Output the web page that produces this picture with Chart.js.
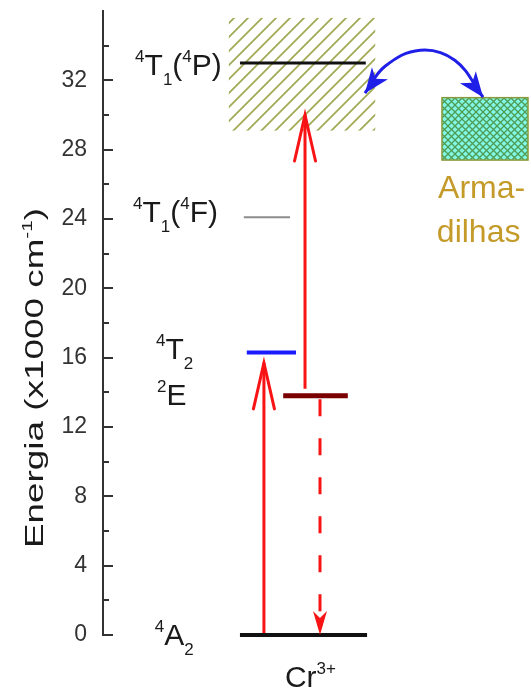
<!DOCTYPE html>
<html>
<head>
<meta charset="utf-8">
<script src="https://cdn.jsdelivr.net/npm/chart.js@4.4.1/dist/chart.umd.min.js"></script>
<style>
  html, body { margin: 0; padding: 0; background: #fff; }
  #wrap { width: 531px; height: 690px; }
</style>
</head>
<body>
<div id="wrap"><canvas id="diagram"></canvas></div>
<script>
// energy levels of Cr3+ (x1000 cm-1); x is a free diagram coordinate 0-100
const levelEnergy = [0, 16.3, 13.8, 24.1, 33.0];
const levelFrom = [32.0, 33.6, 42.1, 32.9, 32.0];
const levelTo = [61.7, 45.1, 57.2, 43.7, 61.4];
const levelColors = ["#111111", "#1a1aff", "#7a0000", "#8c8c8c", "#111111"];
const levelWidths = [4, 4, 5, 2, 3];

// transitions
const arrowX = [37.6, 47.2, 50.7];
const arrowFrom = [0, 14.2, 13.6];
const arrowTo = [15.7, 30.0, 0];
const arrowDashed = [false, false, true];

// band box and trap box: [x0, x1, yLow, yHigh]
const bandBox = [29.4, 63.6, 29.1, 35.6];
const trapBox = [79.2, 99.3, 27.4, 31.0];

// blue curve between band and traps
const curveX = [61.2, 65.9, 74.1, 82.2, 88.8];
const curveY = [31.26, 32.81, 33.74, 33.16, 31.03];

const yTicks = [0, 4, 8, 12, 16, 20, 24, 28, 32];
const yMinorTicks = [2, 6, 10, 14, 18, 22, 26, 30, 34];

const stateLabels = [
  [["4", "sup"], ["T"], ["1", "sub"], ["("], ["4", "sup"], ["P"], [")"]],
  [["4", "sup"], ["T"], ["1", "sub"], ["("], ["4", "sup"], ["F"], [")"]],
  [["4", "sup"], ["T"], ["2", "sub"]],
  [["2", "sup"], ["E"]],
  [["4", "sup"], ["A"], ["2", "sub"]],
  [["Cr"], ["3+", "sup"]]
];
const stateLabelX = [7.5, 7.0, 12.4, 12.6, 12.1, 42.5];
const stateLabelY = [32.3, 23.8, 15.9, 13.26, -0.58, -3.0];

const trapLabel = ["Arma-", "dilhas"];
const trapLabelX = [78.3, 78.0];
const trapLabelY = [25.2, 22.66];

const yTitle = [["Energia (x1000 cm"], ["-1", "sup"], [")"]];

const FONT = "'Liberation Sans', Arial, sans-serif";
const RED = "#f81414";
const BLUE = "#1f1fe8";

function drawRich(ctx, parts, x, y, size, color) {
  let cx = x;
  ctx.fillStyle = color;
  ctx.textBaseline = "alphabetic";
  ctx.textAlign = "left";
  for (const [txt, mode] of parts) {
    const s = mode ? Math.round(size * 0.57) : size;
    ctx.font = s + "px " + FONT;
    const dy = mode === "sup" ? -size * 0.45 : mode === "sub" ? size * 0.33 : 0;
    ctx.fillText(txt, cx, y + dy);
    cx += ctx.measureText(txt).width;
  }
  return cx - x;
}

function richWidth(ctx, parts, size) {
  let w = 0;
  for (const [txt, mode] of parts) {
    const s = mode ? Math.round(size * 0.57) : size;
    ctx.font = s + "px " + FONT;
    w += ctx.measureText(txt).width;
  }
  return w;
}

function makePattern(size, draw) {
  const c = document.createElement("canvas");
  c.width = size;
  c.height = size;
  draw(c.getContext("2d"), size);
  return c;
}

const hatchTile = makePattern(14, (g, s) => {
  g.strokeStyle = "#a3aa55";
  g.lineWidth = 1.8;
  g.beginPath();
  g.moveTo(0, s); g.lineTo(s, 0);
  g.moveTo(-s / 2, s / 2); g.lineTo(s / 2, -s / 2);
  g.moveTo(s / 2, s * 1.5); g.lineTo(s * 1.5, s / 2);
  g.stroke();
});

const crossTile = makePattern(7, (g, s) => {
  g.fillStyle = "#82f7e6";
  g.fillRect(0, 0, s, s);
  g.strokeStyle = "#4f9c55";
  g.lineWidth = 1.3;
  g.beginPath();
  g.moveTo(0, 0); g.lineTo(s, s);
  g.moveTo(0, s); g.lineTo(s, 0);
  g.stroke();
});

const datasets = [];
levelEnergy.forEach((e, i) => {
  datasets.push({
    kind: "level",
    data: [{ x: levelFrom[i], y: e }, { x: levelTo[i], y: e }],
    borderColor: levelColors[i],
    borderWidth: levelWidths[i],
    borderCapStyle: "butt"
  });
});
arrowX.forEach((x, i) => {
  datasets.push({
    kind: arrowDashed[i] ? "arrowFilled" : "arrowOpen",
    data: [{ x: x, y: arrowFrom[i] }, { x: x, y: arrowTo[i] }],
    borderColor: RED,
    borderWidth: 3,
    borderDash: arrowDashed[i] ? [17, 22] : []
  });
});
datasets.push({
  kind: "curve",
  data: curveX.map((x, i) => ({ x: x, y: curveY[i] })),
  borderColor: BLUE,
  borderWidth: 3,
  tension: 0.4
});

const diagramPlugin = {
  id: "diagram",
  beforeDatasetsDraw(chart) {
    const { ctx, scales: { x, y } } = chart;
    ctx.save();
    // band (hatched)
    const bx0 = x.getPixelForValue(bandBox[0]), bx1 = x.getPixelForValue(bandBox[1]);
    const by0 = y.getPixelForValue(bandBox[3]), by1 = y.getPixelForValue(bandBox[2]);
    ctx.fillStyle = ctx.createPattern(hatchTile, "repeat");
    ctx.fillRect(bx0, by0, bx1 - bx0, by1 - by0);
    // traps (cross-hatched)
    const tx0 = x.getPixelForValue(trapBox[0]), tx1 = x.getPixelForValue(trapBox[1]);
    const ty0 = y.getPixelForValue(trapBox[3]), ty1 = y.getPixelForValue(trapBox[2]);
    ctx.fillStyle = ctx.createPattern(crossTile, "repeat");
    ctx.fillRect(tx0, ty0, tx1 - tx0, ty1 - ty0);
    ctx.strokeStyle = "#8a9a3a";
    ctx.lineWidth = 1.5;
    ctx.strokeRect(tx0, ty0, tx1 - tx0, ty1 - ty0);
    ctx.restore();
  },
  afterDatasetsDraw(chart) {
    const { ctx, scales: { x, y }, chartArea } = chart;
    ctx.save();

    // arrow heads
    chart.data.datasets.forEach((ds, i) => {
      const pts = chart.getDatasetMeta(i).data;
      if (ds.kind === "arrowOpen" || ds.kind === "arrowFilled") {
        const a = pts[pts.length - 2], b = pts[pts.length - 1];
        head(ctx, b.x, b.y, Math.atan2(b.y - a.y, b.x - a.x), ds.kind);
      } else if (ds.kind === "curve") {
        const p0 = pts[0], pn = pts[pts.length - 1];
        let c0x = p0.cp2x, c0y = p0.cp2y;
        if (Math.hypot(c0x - p0.x, c0y - p0.y) < 1) { c0x = pts[1].x; c0y = pts[1].y; }
        let cnx = pn.cp1x, cny = pn.cp1y;
        if (Math.hypot(cnx - pn.x, cny - pn.y) < 1) { cnx = pts[pts.length - 2].x; cny = pts[pts.length - 2].y; }
        head(ctx, p0.x, p0.y, Math.atan2(p0.y - c0y, p0.x - c0x), "blue");
        head(ctx, pn.x, pn.y, Math.atan2(pn.y - cny, pn.x - cnx), "blue");
      }
    });

    // inside ticks
    ctx.strokeStyle = "#333";
    ctx.lineWidth = 2;
    ctx.beginPath();
    yTicks.forEach(v => {
      const py = Math.round(y.getPixelForValue(v));
      ctx.moveTo(chartArea.left, py); ctx.lineTo(chartArea.left + 10, py);
    });
    yMinorTicks.forEach(v => {
      const py = Math.round(y.getPixelForValue(v));
      ctx.moveTo(chartArea.left, py); ctx.lineTo(chartArea.left + 6, py);
    });
    ctx.stroke();

    // state labels
    stateLabels.forEach((parts, i) => {
      drawRich(ctx, parts, x.getPixelForValue(stateLabelX[i]), y.getPixelForValue(stateLabelY[i]), 30, "#1a1a1a");
    });
    trapLabel.forEach((t, i) => {
      drawRich(ctx, [[t]], x.getPixelForValue(trapLabelX[i]), y.getPixelForValue(trapLabelY[i]), 32, "#c49a28");
    });

    // y axis title, rotated
    const w = richWidth(ctx, yTitle, 25);
    ctx.translate(43, 378);
    ctx.rotate(-Math.PI / 2);
    ctx.scale(340 / w, 1);
    drawRich(ctx, yTitle, -w / 2, 0, 25, "#1a1a1a");
    ctx.restore();
  }
};

function head(ctx, tx, ty, ang, style) {
  ctx.save();
  ctx.translate(tx, ty);
  ctx.rotate(ang);
  if (style === "arrowOpen") {
    ctx.strokeStyle = RED;
    ctx.lineWidth = 3;
    ctx.lineCap = "round";
    ctx.beginPath();
    ctx.moveTo(-46, -10.5); ctx.lineTo(0, 0); ctx.lineTo(-46, 10.5);
    ctx.stroke();
  } else if (style === "arrowFilled") {
    ctx.fillStyle = RED;
    ctx.beginPath();
    ctx.moveTo(0, 0); ctx.lineTo(-24, -7); ctx.lineTo(-17, 0); ctx.lineTo(-24, 7);
    ctx.closePath();
    ctx.fill();
  } else {
    ctx.fillStyle = BLUE;
    ctx.beginPath();
    ctx.moveTo(0, 0); ctx.lineTo(-25, -10); ctx.lineTo(-18, 0); ctx.lineTo(-25, 10);
    ctx.closePath();
    ctx.fill();
  }
  ctx.restore();
}

new Chart(document.getElementById("diagram"), {
  type: "line",
  data: { datasets: datasets },
  options: {
    responsive: true,
    maintainAspectRatio: false,
    animation: false,
    layout: { padding: { top: 11, bottom: 55, left: 0, right: 0 } },
    datasets: { line: { pointRadius: 0, clip: false, fill: false } },
    plugins: { legend: { display: false }, tooltip: { enabled: false } },
    events: [],
    scales: {
      x: { type: "linear", min: 0, max: 100, display: false },
      y: {
        type: "linear",
        min: 0,
        max: 36,
        afterFit: s => { s.width = 103; s.paddingTop = 0; s.paddingBottom = 0; },
        afterBuildTicks: s => { s.ticks = yTicks.map(v => ({ value: v })); },
        grid: { display: false, drawTicks: false },
        border: { display: true, color: "#333", width: 2 },
        ticks: { padding: 16, color: "#333", font: { family: FONT, size: 23 } }
      }
    }
  },
  plugins: [diagramPlugin]
});
</script>
</body>
</html>
